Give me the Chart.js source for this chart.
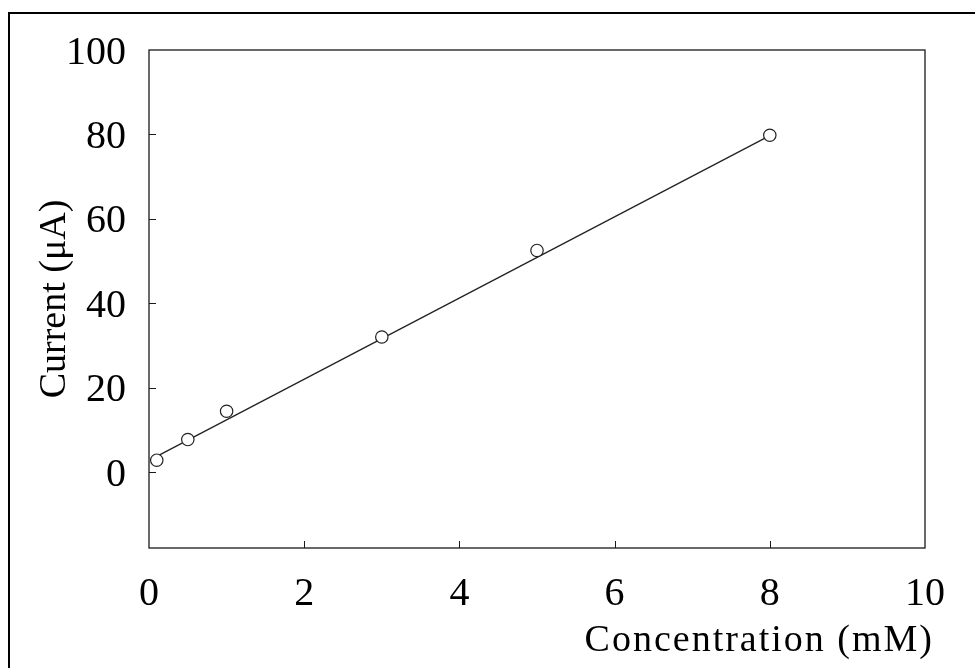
<!DOCTYPE html>
<html>
<head>
<meta charset="utf-8">
<script src="https://cdn.jsdelivr.net/npm/chart.js@4/dist/chart.umd.min.js"></script>
<style>
  html, body { margin: 0; padding: 0; background: #fff; overflow: hidden; }
  #wrap { position: relative; width: 975px; height: 668px; }
  #frame { position: absolute; left: 8px; top: 12px; width: 1000px; height: 700px;
           border-left: 2.5px solid #000; border-top: 2.5px solid #000; }
  canvas { position: absolute; left: 0; top: 0; }
</style>
</head>
<body>
<div id="wrap">
  <div id="frame"></div>
  <canvas id="c" width="975" height="668"></canvas>
</div>
<script>
// Data
const concentration = [0.1, 0.5, 1, 3, 5, 8];       // mM
const current = [2.8, 7.7, 14.4, 32.0, 52.5, 79.8];  // µA
const fitX = [0.1, 8];
const fitY = [3.7, 79.7];
const xTicks = [0, 2, 4, 6, 8, 10];
const yTicks = [0, 20, 40, 60, 80, 100];
const xTitle = 'Concentration (mM)';
const yTitle = 'Current (\u03bcA)';

const FONT = '"Liberation Serif", "Times New Roman", serif';

const framePlugin = {
  id: 'framePlugin',
  beforeDatasetsDraw(chart) {
    const ctx = chart.ctx, a = chart.chartArea;
    ctx.save();
    ctx.strokeStyle = '#1a1a1a';
    ctx.lineWidth = 1.3;
    ctx.strokeRect(a.left, a.top, a.right - a.left, a.bottom - a.top);
    // inward tick marks
    const L = 7;
    ctx.lineWidth = 1;
    ctx.beginPath();
    chart.scales.y.ticks.forEach(t => {
      const py = Math.round(chart.scales.y.getPixelForValue(t.value)) + 0.5;
      if (py > a.top + 2 && py < a.bottom - 2) {
        ctx.moveTo(a.left, py); ctx.lineTo(a.left + L, py);
      }
    });
    chart.scales.x.ticks.forEach(t => {
      const px = Math.round(chart.scales.x.getPixelForValue(t.value)) + 0.5;
      if (px > a.left + 2 && px < a.right - 2) {
        ctx.moveTo(px, a.bottom); ctx.lineTo(px, a.bottom - L);
      }
    });
    ctx.stroke();
    ctx.restore();
  },
  beforeDraw(chart) {
    const sx = chart.scales.x;
    if (sx && !sx._patchedTitle) {
      const orig = sx.drawTitle;
      sx.drawTitle = function () {
        const ctx = this.ctx;
        ctx.save();
        try { ctx.letterSpacing = '2px'; } catch (e) {}
        ctx.translate(9, 0);
        orig.apply(this, arguments);
        ctx.restore();
      };
      sx._patchedTitle = true;
    }
  }
};

new Chart(document.getElementById('c'), {
  type: 'scatter',
  data: {
    datasets: [
      {
        label: 'Measured',
        data: concentration.map((x, i) => ({ x, y: current[i] })),
        pointRadius: 6.2,
        pointHoverRadius: 6.2,
        pointBackgroundColor: '#fff',
        pointBorderColor: '#222',
        pointBorderWidth: 1.2,
        showLine: false
      },
      {
        label: 'Fit',
        data: fitX.map((x, i) => ({ x, y: fitY[i] })),
        showLine: true,
        borderColor: '#222',
        borderWidth: 1.3,
        pointRadius: 0,
        fill: false
      }
    ]
  },
  options: {
    responsive: false,
    devicePixelRatio: 1,
    animation: false,
    events: [],
    layout: { padding: { top: 50, right: 50, left: 0, bottom: 0 } },
    plugins: { legend: { display: false }, tooltip: { enabled: false } },
    scales: {
      x: {
        type: 'linear',
        min: 0, max: 10,
        afterBuildTicks: s => { s.ticks = xTicks.map(v => ({ value: v })); },
        afterFit: s => { s.height = 120; },
        grid: { display: false, drawTicks: false },
        border: { display: false },
        ticks: {
          autoSkip: false, maxRotation: 0, padding: 22,
          color: '#000',
          font: { family: FONT, size: 40 }
        },
        title: {
          display: true, text: xTitle, align: 'end', color: '#000',
          font: { family: FONT, size: 38 },
          padding: { top: 0, bottom: 4 }
        }
      },
      y: {
        type: 'linear',
        min: -18, max: 100,
        afterBuildTicks: s => { s.ticks = yTicks.map(v => ({ value: v })); },
        afterFit: s => { s.width = 149; },
        grid: { display: false, drawTicks: false },
        border: { display: false },
        ticks: {
          autoSkip: false, padding: 23, labelOffset: 3,
          color: '#000',
          font: { family: FONT, size: 40 }
        },
        title: {
          display: true, text: yTitle, color: '#000',
          font: { family: FONT, size: 38 },
          padding: { top: 32, bottom: 0 }
        }
      }
    }
  },
  plugins: [framePlugin]
});
</script>
</body>
</html>
